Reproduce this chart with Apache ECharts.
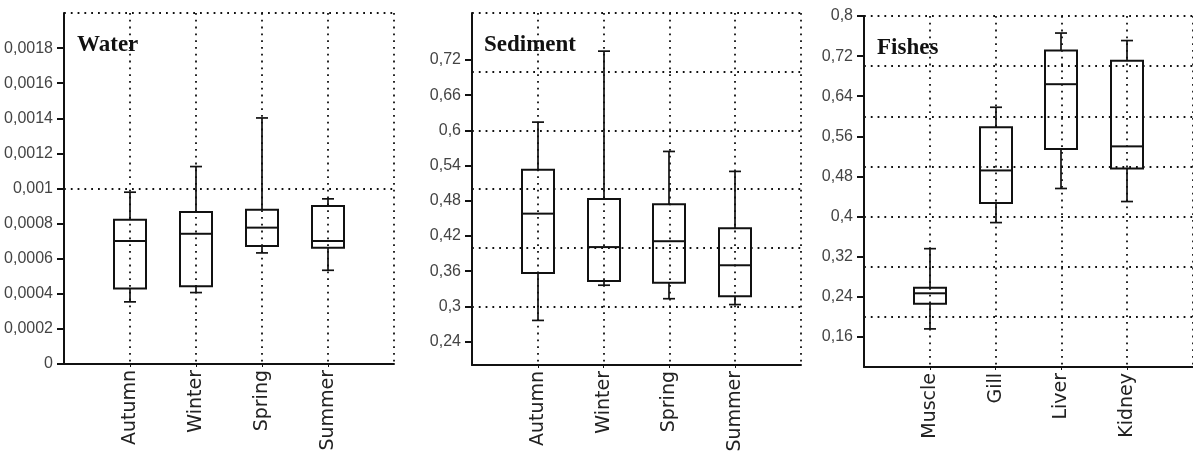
<!DOCTYPE html>
<html><head><meta charset="utf-8">
<script src="https://cdn.jsdelivr.net/npm/echarts@6/dist/echarts.min.js"></script>
<style>html,body{margin:0;padding:0;background:#fff}#c{width:1193px;height:461px}</style>
</head><body><div id="c"></div>
<script>
const seasons = ['Autumn', 'Winter', 'Spring', 'Summer'];
const tissues = ['Muscle', 'Gill', 'Liver', 'Kidney'];
// each row: [lower whisker, Q1, median, Q3, upper whisker]
const waterStats = [
  [0.000354, 0.000430, 0.000701, 0.000822, 0.000979],
  [0.000407, 0.000443, 0.000742, 0.000866, 0.001125],
  [0.000633, 0.000672, 0.000777, 0.000879, 0.001402],
  [0.000534, 0.000663, 0.000701, 0.000900, 0.000941]
];
const sedimentStats = [
  [0.276, 0.357, 0.458, 0.533, 0.614],
  [0.336, 0.343, 0.401, 0.483, 0.735],
  [0.313, 0.340, 0.411, 0.474, 0.564],
  [0.303, 0.317, 0.370, 0.433, 0.530]
];
const fishStats = [
  [0.176, 0.226, 0.247, 0.258, 0.336],
  [0.388, 0.427, 0.492, 0.578, 0.618],
  [0.456, 0.535, 0.664, 0.731, 0.766],
  [0.430, 0.496, 0.540, 0.711, 0.751]
];
const waterTicks = [0, 0.0002, 0.0004, 0.0006, 0.0008, 0.001, 0.0012, 0.0014, 0.0016, 0.0018];
const sedimentTicks = [0.24, 0.3, 0.36, 0.42, 0.48, 0.54, 0.6, 0.66, 0.72];
const fishTicks = [0.16, 0.24, 0.32, 0.4, 0.48, 0.56, 0.64, 0.72, 0.8];
const panelTitles = ['Water', 'Sediment', 'Fishes'];

const INK = '#111';
const dotted = { type: [1.8, 5], color: '#111', width: 1.8 };

function renderBox(params, api) {
  const x = api.value(0);
  const lo = api.coord([x, api.value(1)]);
  const q1 = api.coord([x, api.value(2)]);
  const md = api.coord([x, api.value(3)]);
  const q3 = api.coord([x, api.value(4)]);
  const hi = api.coord([x, api.value(5)]);
  const cx = Math.round(lo[0]);
  const bw = 32, cw = 12;
  const ws = { stroke: INK, lineWidth: 1.7 };
  const bs = { stroke: INK, lineWidth: 2, fill: 'none' };
  return {
    type: 'group',
    children: [
      { type: 'line', shape: { x1: cx, y1: q3[1], x2: cx, y2: hi[1] }, style: ws },
      { type: 'line', shape: { x1: cx, y1: q1[1], x2: cx, y2: lo[1] }, style: ws },
      { type: 'line', shape: { x1: cx - cw / 2, y1: hi[1], x2: cx + cw / 2, y2: hi[1] }, style: ws },
      { type: 'line', shape: { x1: cx - cw / 2, y1: lo[1], x2: cx + cw / 2, y2: lo[1] }, style: ws },
      { type: 'rect', shape: { x: cx - bw / 2, y: q3[1], width: bw, height: q1[1] - q3[1] }, style: bs },
      { type: 'line', shape: { x1: cx - bw / 2, y1: md[1], x2: cx + bw / 2, y2: md[1] }, style: bs }
    ]
  };
}

function xAxis(gi, cats) {
  const data = [''].concat(cats, ['']);
  return {
    type: 'category', gridIndex: gi, data: data, boundaryGap: false,
    axisLine: { onZero: false, lineStyle: { color: INK, width: 2 } },
    axisTick: { length: 3, interval: (i) => i > 0 && i < data.length - 1, lineStyle: { color: INK } },
    axisLabel: { rotate: 90, margin: 6, interval: 0, fontFamily: 'DejaVu Sans', fontSize: 19, color: '#222' },
    splitLine: { show: true, interval: 0, lineStyle: dotted }
  };
}
// axis carrying labels and ticks
function yAxis(gi, min, max, ticks) {
  return {
    type: 'value', gridIndex: gi, min: min, max: max, position: 'left',
    axisLine: { show: true, onZero: false, lineStyle: { color: INK, width: 2 } },
    axisTick: { show: true, length: 7, customValues: ticks, lineStyle: { color: INK, width: 2 } },
    axisLabel: {
      customValues: ticks, margin: 11,
      formatter: (v) => String(v).replace('.', ','),
      fontFamily: 'Liberation Sans', fontSize: 16, color: '#444'
    },
    splitLine: { show: false }
  };
}
// twin axis carrying only the dotted grid lines
function gridAxis(gi, min, max, interval) {
  return {
    type: 'value', gridIndex: gi, min: min, max: max, interval: interval, position: 'left',
    axisLine: { show: false }, axisTick: { show: false }, axisLabel: { show: false },
    splitLine: { show: true, lineStyle: dotted }
  };
}
function series(gi, stats) {
  return {
    type: 'custom', xAxisIndex: gi, yAxisIndex: gi,
    renderItem: renderBox,
    encode: { x: 0, y: [1, 2, 3, 4, 5] },
    data: stats.map((s, i) => [i + 1].concat(s)),
    silent: true, z: 5
  };
}
const titleStyle = { fontFamily: 'Liberation Serif', fontWeight: 'bold', fontSize: 23, color: '#111' };

const chart = echarts.init(document.getElementById('c'), null, { renderer: 'canvas' });
chart.setOption({
  animation: false,
  backgroundColor: '#fff',
  title: [
    { text: panelTitles[0], left: 72, top: 29, textStyle: titleStyle },
    { text: panelTitles[1], left: 479, top: 29, textStyle: titleStyle },
    { text: panelTitles[2], left: 872, top: 32, textStyle: titleStyle }
  ],
  grid: [
    { left: 64, width: 330, top: 13, height: 351 },
    { left: 472, width: 329, top: 13, height: 352 },
    { left: 864, width: 330, top: 16, height: 351 }
  ],
  xAxis: [xAxis(0, seasons), xAxis(1, seasons), xAxis(2, tissues)],
  yAxis: [
    yAxis(0, 0, 0.002, waterTicks),
    yAxis(1, 0.2, 0.8, sedimentTicks),
    yAxis(2, 0.1, 0.8, fishTicks),
    gridAxis(0, 0, 0.002, 0.001),
    gridAxis(1, 0.2, 0.8, 0.1),
    gridAxis(2, 0.1, 0.8, 0.1)
  ],
  series: [series(0, waterStats), series(1, sedimentStats), series(2, fishStats)]
});
</script>
</body></html>
